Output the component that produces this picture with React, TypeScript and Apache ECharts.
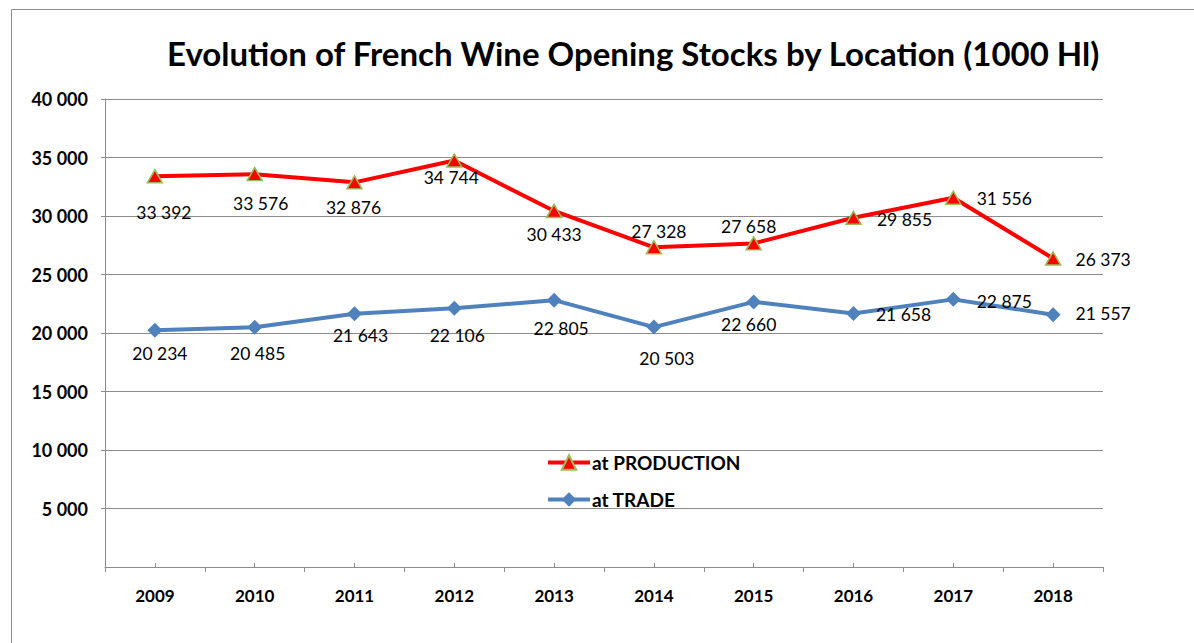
import React, { useEffect, useRef } from "react";
import * as echarts from "echarts";

const years = ["2009", "2010", "2011", "2012", "2013", "2014", "2015", "2016", "2017", "2018"];
const production = [33392, 33576, 32876, 34744, 30433, 27328, 27658, 29855, 31556, 26373];
const trade = [20234, 20485, 21643, 22106, 22805, 20503, 22660, 21658, 22875, 21557];
const yMin = 0;
const yMax = 40000;
const yStep = 5000;
const titleText = "Evolution of French Wine Opening Stocks by Location (1000 Hl)";
const productionName = "at PRODUCTION";
const tradeName = "at TRADE";

// label placement offsets (px, relative to the point)
const productionLabelOffsets: [number, number][] = [
  [9, 36], [6, 29], [-1, 25], [-3, 17], [0, 24], [5, -16], [-5, -17], [51, 2], [51, 1], [50, 1],
];
const tradeLabelOffsets: [number, number][] = [
  [5, 23], [3, 26], [6, 22], [3, 27], [7, 28], [13, 31], [-5, 23], [50, 1], [51, 2], [50, -1],
];

const FONT = "Lato, 'Open Sans', sans-serif";
const fmt = (v: number) => String(v).replace(/\B(?=(\d{3})+(?!\d))/g, " ");

export default function App() {
  const ref = useRef<HTMLDivElement>(null);
  useEffect(() => {
    if (!ref.current) return;
    const chart = echarts.init(ref.current, undefined, { renderer: "svg" });
    const mkData = (vals: number[], offs: [number, number][]) =>
      vals.map((v, i) => ({
        value: v,
        label: { offset: offs[i] },
      }));
    const labelStyle = {
      show: true,
      position: "inside" as const,
      formatter: (p: any) => fmt(p.value),
      fontFamily: FONT,
      fontSize: 17.5,
      color: "#000",
      align: "center" as const,
      verticalAlign: "middle" as const,
    };
    chart.setOption({
      animation: false,
      backgroundColor: "#fff",
      title: {
        text: titleText,
        left: 167,
        top: 36,
        padding: 0,
        textStyle: { fontFamily: FONT, fontSize: 33, fontWeight: "bold", color: "#000" },
      },
      graphic: [
        {
          type: "rect",
          shape: { x: 11.5, y: 9.5, width: 1300, height: 800 },
          style: { fill: "none", stroke: "#8c8c8c", lineWidth: 1 },
          silent: true,
        },
      ],
      legend: {
        orient: "vertical",
        left: 546,
        top: 453,
        padding: 0,
        itemWidth: 42,
        itemHeight: 18,
        itemGap: 18,
        itemStyle: {},
        lineStyle: { width: 4 },
        textStyle: { fontFamily: FONT, fontSize: 19, fontWeight: "bold", color: "#000", padding: [0, 0, 0, -3] },
        data: [productionName, tradeName],
      },
      grid: { left: 105, right: 91, top: 99, bottom: 76, containLabel: false },
      xAxis: [
        {
          type: "category",
          data: years,
          boundaryGap: true,
          axisLine: { show: true, lineStyle: { color: "#8c8c8c", width: 1 } },
          axisTick: { show: true, alignWithLabel: false, length: 5, lineStyle: { color: "#8c8c8c" } },
          axisLabel: { margin: 20, fontFamily: FONT, fontSize: 17, fontWeight: "bold", color: "#000" },
          splitLine: { show: false },
        },
        {
          type: "category",
          data: years,
          position: "bottom",
          boundaryGap: true,
          axisLine: { show: false },
          axisTick: { show: true, alignWithLabel: true, inside: true, length: 4, lineStyle: { color: "#8c8c8c" } },
          axisLabel: { show: false },
          splitLine: { show: false },
        },
      ],
      yAxis: {
        type: "value",
        min: yMin,
        max: yMax,
        interval: yStep,
        axisLine: { show: true, lineStyle: { color: "#8c8c8c", width: 1 } },
        axisTick: { show: true, length: 4, lineStyle: { color: "#8c8c8c" } },
        axisLabel: {
          margin: 17,
          showMinLabel: false,
          formatter: (v: number) => (v === 0 ? "" : fmt(v)),
          fontFamily: FONT,
          fontSize: 18,
          fontWeight: "bold",
          color: "#000",
        },
        splitLine: { show: true, lineStyle: { color: "#8c8c8c", width: 1 } },
      },
      series: [
        {
          name: productionName,
          type: "line",
          data: mkData(production, productionLabelOffsets),
          symbol: "triangle",
          symbolSize: [15, 13],
          lineStyle: { color: "#ff0000", width: 4 },
          itemStyle: { color: "#ff0000", borderColor: "#9bbb59", borderWidth: 1.5 },
          label: labelStyle,
          z: 3,
        },
        {
          name: tradeName,
          type: "line",
          data: mkData(trade, tradeLabelOffsets),
          symbol: "diamond",
          symbolSize: 15,
          lineStyle: { color: "#4f81bd", width: 4 },
          itemStyle: { color: "#4f81bd" },
          label: labelStyle,
          z: 3,
        },
      ],
    });
    return () => chart.dispose();
  }, []);
  return (
    <div
      ref={ref}
      style={{ position: "fixed", left: 0, top: 0, width: 1194, height: 643 }}
    />
  );
}
